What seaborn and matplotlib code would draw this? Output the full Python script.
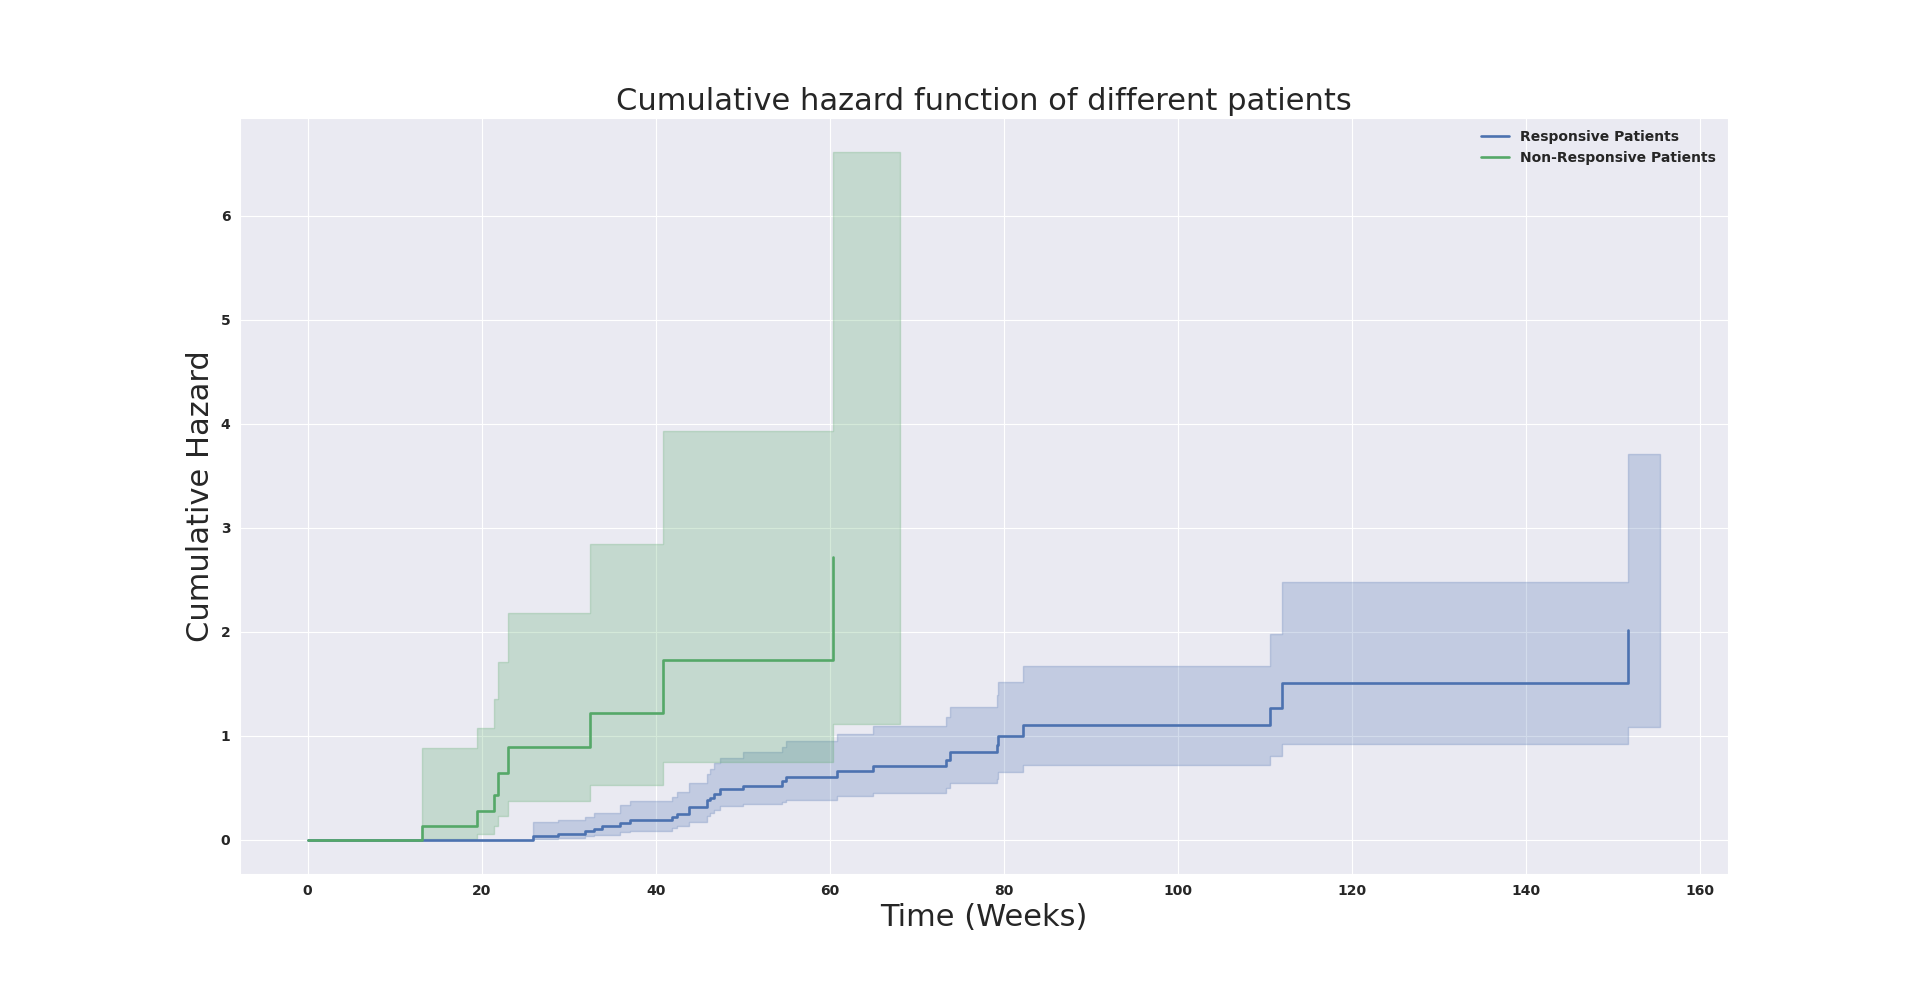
import numpy as np
import pandas as pd
import matplotlib
matplotlib.use("Agg")
import matplotlib.pyplot as plt
import seaborn as sns

# Responsive patients: Nelson-Aalen style cumulative hazard (steps)
resp_time = [0, 25.94, 28.8, 31.9, 32.9, 33.8, 35.9, 37.05, 41.9, 42.45, 43.8, 45.9, 46.2, 46.7,
             47.4, 50.05, 54.45, 54.9, 60.85, 64.9, 73.3, 73.76, 79.16, 79.3, 82.15, 110.5, 111.9, 151.7]
resp_hazard = [0, 0.032, 0.051, 0.083, 0.103, 0.128, 0.157, 0.186, 0.215, 0.244, 0.311, 0.385, 0.404, 0.442,
               0.484, 0.519, 0.567, 0.606, 0.657, 0.705, 0.769, 0.840, 0.913, 0.994, 1.099, 1.263, 1.510, 2.016]
# confidence band has one extra point at the end (last censored time)
resp_ci_time = resp_time + [155.4]
resp_upper = [0, 0.170, 0.192, 0.221, 0.256, 0.256, 0.330, 0.375, 0.410, 0.458, 0.545, 0.635, 0.683, 0.740,
              0.785, 0.843, 0.894, 0.949, 1.016, 1.096, 1.183, 1.279, 1.394, 1.516, 1.670, 1.981, 2.478, 3.71, 3.71]
resp_lower = [0, 0.006, 0.019, 0.032, 0.048, 0.048, 0.071, 0.087, 0.112, 0.128, 0.167, 0.224, 0.256, 0.288,
              0.321, 0.343, 0.36, 0.385, 0.42, 0.449, 0.494, 0.545, 0.587, 0.647, 0.715, 0.801, 0.920, 1.087, 1.087]

# Non-responsive patients
nonresp_time = [0, 13.15, 19.4, 21.46, 21.88, 23.07, 32.46, 40.77, 60.3]
nonresp_hazard = [0, 0.128, 0.272, 0.433, 0.638, 0.888, 1.221, 1.724, 2.72]
nonresp_ci_time = nonresp_time + [68.0]
nonresp_upper = [0, 0.882, 1.074, 1.353, 1.71, 2.18, 2.84, 3.93, 6.61, 6.61]
nonresp_lower = [0, 0.005, 0.058, 0.135, 0.23, 0.368, 0.522, 0.747, 1.11, 1.11]

blue = "#4C72B0"
green = "#55A868"

sns.set_style("darkgrid")
fig, ax = plt.subplots(figsize=(19.2, 9.82), dpi=100)

df_r = pd.DataFrame({"t": resp_time, "h": resp_hazard})
df_n = pd.DataFrame({"t": nonresp_time, "h": nonresp_hazard})

# Responsive
sns.lineplot(data=df_r, x="t", y="h", ax=ax, color=blue, lw=1.9,
             drawstyle="steps-post", estimator=None, label="Responsive Patients")
ax.fill_between(resp_ci_time, resp_lower, resp_upper, step="post",
                color=blue, alpha=0.25, linewidth=1.0)

# Non-responsive
sns.lineplot(data=df_n, x="t", y="h", ax=ax, color=green, lw=1.9,
             drawstyle="steps-post", estimator=None, label="Non-Responsive Patients")
ax.fill_between(nonresp_ci_time, nonresp_lower, nonresp_upper, step="post",
                color=green, alpha=0.25, linewidth=1.0)

ax.margins(x=0.05, y=0.05)
ax.set_title("Cumulative hazard function of different patients", fontsize=22)
ax.set_xlabel("Time (Weeks)", fontsize=22)
ax.set_ylabel("Cumulative Hazard", fontsize=22)

for lbl in ax.get_xticklabels() + ax.get_yticklabels():
    lbl.set_fontweight("bold")
    lbl.set_fontsize(10)

leg = ax.legend(loc="upper right", frameon=False, prop={"weight": "bold", "size": 10})

plt.savefig("out.png", dpi=100)
